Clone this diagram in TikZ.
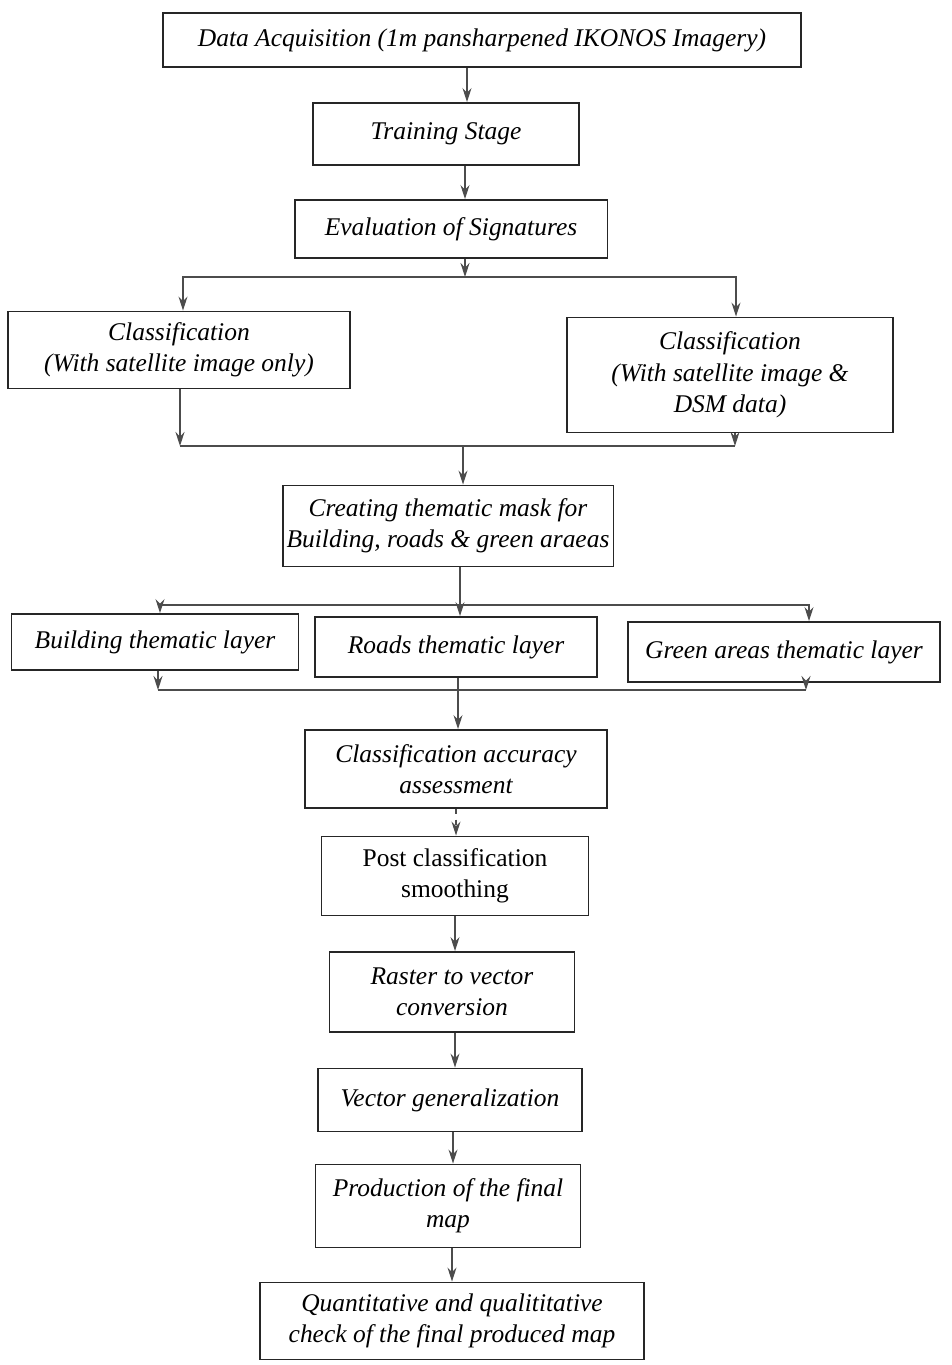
\documentclass[tikz,border=0pt]{standalone}
\usepackage{fontspec}
\setmainfont{Liberation Serif}
\usetikzlibrary{arrows.meta,positioning}

\tikzset{
  box/.style={draw=black!85,rectangle,line width=1.1pt,align=center,inner sep=2pt,
    font=\fontsize{14.5}{17.8}\selectfont\itshape},
  link/.style={draw=black!70,line width=0.7pt},
  arr/.style={link,-{Stealth[length=2.8mm,width=1.8mm]}}
}

\begin{document}
\begin{tikzpicture}[x=0.02cm,y=-0.02cm]
  \useasboundingbox[fill=white] (0,0) rectangle (952,1365);

  % Acquisizione e training
  \node[box,minimum width=12.76cm,minimum height=1.08cm] (acq) at (482,40) {Data Acquisition (1m pansharpened IKONOS Imagery)};
  \node[box,minimum width=5.32cm,minimum height=1.24cm] (train) at (446,134) {Training Stage};
  \node[box,minimum width=6.26cm,minimum height=1.16cm] (eval) at (451,229) {Evaluation of Signatures};

  % Classificazioni
  \node[box,minimum width=6.84cm,minimum height=1.54cm] (cls1) at (179,350) {Classification\\(With satellite image only)};
  \node[box,minimum width=6.52cm,minimum height=2.3cm] (cls2) at (730,375) {Classification\\(With satellite image \&\\DSM data)};

  % Maschera e layer tematici
  \node[box,minimum width=6.62cm,minimum height=1.62cm] (mask) at (448,526) {Creating thematic mask for\\Building, roads \& green araeas};
  \node[box,minimum width=5.74cm,minimum height=1.12cm] (bld) at (155,642) {Building thematic layer};
  \node[box,minimum width=5.64cm,minimum height=1.2cm] (rd) at (456,647) {Roads thematic layer};
  \node[box,minimum width=6.24cm,minimum height=1.2cm] (grn) at (784,652) {Green areas thematic layer};

  % Catena finale
  \node[box,minimum width=6.04cm,minimum height=1.56cm] (acc) at (456,769) {Classification accuracy\\assessment};
  \node[box,minimum width=5.34cm,minimum height=1.58cm,font=\fontsize{14.5}{17.8}\selectfont] (post) at (455,876) {Post classification\\smoothing};
  \node[box,minimum width=4.9cm,minimum height=1.6cm] (rast) at (452,992) {Raster to vector\\conversion};
  \node[box,minimum width=5.28cm,minimum height=1.26cm] (vgen) at (450,1100) {Vector generalization};
  \node[box,minimum width=5.3cm,minimum height=1.66cm] (prod) at (448,1206) {Production of the final\\map};
  \node[box,minimum width=7.68cm,minimum height=1.54cm] (qual) at (452,1321) {Quantitative and qualititative\\check of the final produced map};

  % Punti di diramazione
  \coordinate (split1) at (465,277);
  \coordinate (join1) at (463,446);
  \coordinate (split2) at (460,605);
  \coordinate (join2) at (458,690);

  % Frecce
  \draw[arr] ([xshift=0.42cm]acq.south -| train.north) -- ([xshift=0.42cm]train.north);
  \draw[arr] ([xshift=0.38cm]train.south) -- ([xshift=0.38cm]train.south |- eval.north);
  \draw[arr] (split1 |- eval.south) -- (split1);
  \draw[arr] (split1) -| ([xshift=0.08cm]cls1.north);
  \draw[arr] (split1) -| ([xshift=0.12cm]cls2.north);

  \draw[arr] ([xshift=0.02cm]cls1.south) -- ([xshift=0.02cm]cls1.south |- join1);
  \draw[arr] ([xshift=0.1cm]cls2.south) -- ([xshift=0.1cm]cls2.south |- join1);
  \draw[link] ([xshift=0.02cm]cls1.south |- join1) -- ([xshift=0.1cm]cls2.south |- join1);
  \draw[arr] (join1) -- (join1 |- mask.north);

  \draw[link] (split2 |- mask.south) -- (split2);
  \draw[arr] (split2) -| ([xshift=0.1cm]bld.north);
  \draw[arr] (split2) -- (split2 |- rd.north);
  \draw[arr] (split2) -| ([xshift=0.5cm]grn.north);

  \draw[arr] ([xshift=0.06cm]bld.south) -- ([xshift=0.06cm]bld.south |- join2);
  \draw[arr] ([xshift=0.44cm]grn.south) -- ([xshift=0.44cm]grn.south |- join2);
  \draw[link] ([xshift=0.06cm]bld.south |- join2) -- ([xshift=0.44cm]grn.south |- join2);
  \draw[arr] (join2 |- rd.south) -- (join2 |- acc.north);

  \draw[arr,dashed] (acc.south) -- (acc.south |- post.north);
  \draw[arr] (post.south) -- (post.south |- rast.north);
  \draw[arr] ([xshift=0.06cm]rast.south) -- ([xshift=0.06cm]rast.south |- vgen.north);
  \draw[arr] ([xshift=0.06cm]vgen.south) -- ([xshift=0.06cm]vgen.south |- prod.north);
  \draw[arr] ([xshift=0.08cm]prod.south) -- ([xshift=0.08cm]prod.south |- qual.north);
\end{tikzpicture}
\end{document}
